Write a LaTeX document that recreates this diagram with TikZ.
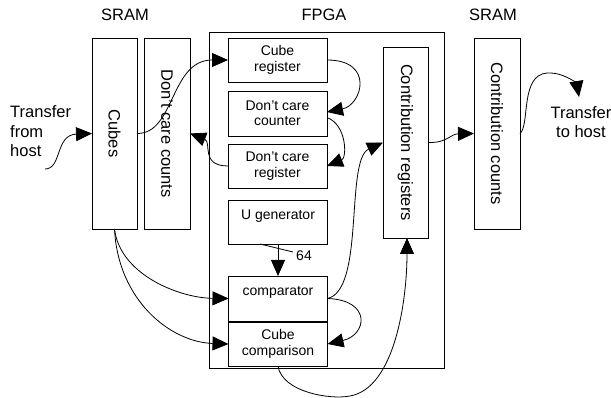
\documentclass[tikz,border=0pt]{standalone}
\usepackage{fontspec}
\setmainfont{Liberation Sans}
\usetikzlibrary{arrows.meta}
\begin{document}
\begin{tikzpicture}[x=1pt,y=-1pt,
  box/.style={draw, line width=0.9pt, inner sep=0pt, outer sep=0pt, align=center, font=\fontsize{14}{15.5}\selectfont},
  boxtext/.style={inner sep=0pt, font=\fontsize{14}{15.5}\selectfont},
  big/.style={inner sep=0pt, font=\fontsize{16.5}{19.5}\selectfont},
  arr/.style={-{Triangle[length=16pt,width=14pt]}, line width=0.8pt},
  thin/.style={line width=0.8pt}]
\useasboundingbox (0,0) rectangle (611,398);

% SRAM left
\node[box, minimum width=45pt, minimum height=191pt] (cubes) at (114.5,133.5) {};
\node[big, rotate=-90] (cubestxt) at (cubes.center) {Cubes};
\node[box, minimum width=46pt, minimum height=191pt] (dcc) at (167,133.5) {};
\node[big, rotate=-90] (dcctxt) at (dcc.center) {Don't care counts};

% FPGA
\node[box, minimum width=235pt, minimum height=336pt] (fpga) at (326.5,200) {};
\node[box, minimum width=99pt, minimum height=44pt] (cubereg) at (277.5,60) {Cube\\register};
\node[box, minimum width=99pt, minimum height=45pt] (dccounter) at (277.5,113.5) {Don't care\\counter};
\node[box, minimum width=99pt, minimum height=44pt] (dcreg) at (277.5,166) {Don't care\\register};
\node[box, minimum width=99pt, minimum height=44pt] (ugen) at (278,222) {U generator\\\mbox{}};
\node[box, minimum width=99pt, minimum height=45pt] (comp) at (278,298.5) {comparator\\\mbox{}};
\node[box, minimum width=99pt, minimum height=44pt] (cubecomp) at (278,344) {Cube\\comparison};
\node[box, minimum width=45pt, minimum height=191pt] (contribreg) at (405.5,142.5) {};
\node[big, rotate=-90] (contribregtxt) at (contribreg.center) {Contribution registers};

% SRAM right
\node[box, minimum width=46pt, minimum height=191pt] (contribcounts) at (497,133.5) {};
\node[big, rotate=-90] (contribcountstxt) at (contribcounts.center) {Contribution counts};

% labels
\node[big] (sram1) at (125,15) {SRAM};
\node[big] (fpgalabel) at (324,15) {FPGA};
\node[big] (sram2) at (493,15) {SRAM};
\node[big, align=left, anchor=west] (tfh) at (10,131.5) {Transfer\\from\\host};
\node[big, align=center] (tth) at (581,122) {Transfer\\to host};
\node[boxtext] (n64) at (304,256) {64};

\coordinate (fh) at (45,169);
\coordinate (th) at (579,97);

% connectors
\draw[arr] (fh) .. controls (62,169) and (55,135) .. (cubes.west);
\draw[arr] (cubes.east) .. controls (175,134) and (170,60) .. (cubereg.west);
\draw[arr] (dcreg.west) .. controls (200,166) and (212,142) .. (dcc.east);
\draw[arr] (cubereg.east) .. controls (375,60) and (362,105) .. ([yshift=1.5pt]dccounter.east);
\draw[arr] ([yshift=-4pt]dccounter.east) .. controls (347,125) and (347,158) .. (dcreg.east);
\draw[arr] (comp.east) .. controls (365,290) and (345,160) .. (contribreg.west);
\draw[arr] (comp.east) .. controls (372,300) and (367,335) .. (cubecomp.east);
\draw[arr] (cubecomp.south) .. controls (282,392) and (330,400) .. (350,396) .. controls (395,388) and (407,300) .. ([xshift=1.5pt]contribreg.south);
\draw[arr] (cubes.south) .. controls (120,275) and (180,298) .. (comp.west);
\draw[arr] (cubes.south) .. controls (118,300) and (170,342) .. (cubecomp.west);
\draw[arr] (ugen.south) -- (comp.north);
\draw[thin] (260,244) -- (293,252);
\draw[arr] (contribreg.east) .. controls (448,143) and (450,134) .. (contribcounts.west);
\draw[arr] (contribcounts.east) .. controls (530,125) and (520,75) .. (547,73) .. controls (565,72) and (577,85) .. (th);
\end{tikzpicture}
\end{document}
